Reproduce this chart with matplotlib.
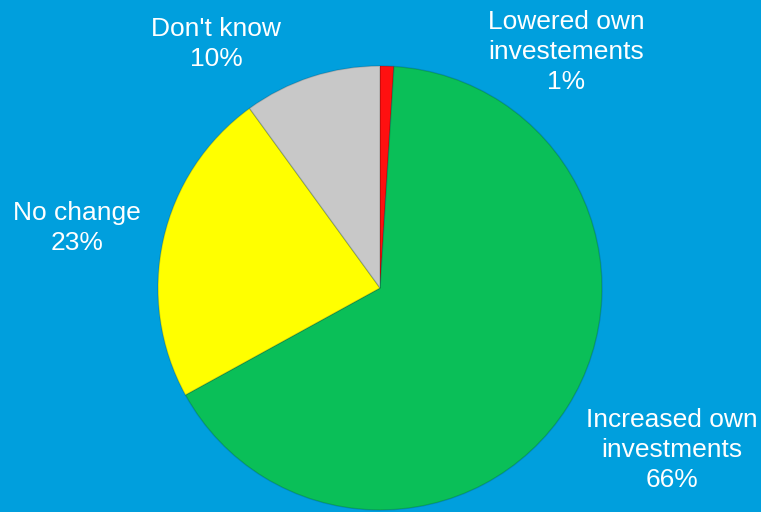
import matplotlib
matplotlib.use('Agg')
from matplotlib import pyplot as plt

plt.rcParams['font.family'] = ['Liberation Sans', 'DejaVu Sans']

labels = ['Lowered own\ninvestements', 'Increased own\ninvestments', 'No change', "Don't know"]
shares = [1, 66, 23, 10]
colors = ['#FF1010', '#0ABF58', '#FFFF00', '#C8C8C8']

# label centres, in pixels from top left
label_xy = [(566, 52), (672, 450), (77, 228), (216, 44)]

W, H = 761, 512
fig = plt.figure(figsize=(W / 100, H / 100), dpi=100)
fig.patch.set_facecolor('#009FDD')
ax = fig.add_axes([0, 0, 1, 1])
ax.set_facecolor('#009FDD')

ax.pie(shares, colors=colors, startangle=90, counterclock=False,
       center=(380, H - 288), radius=222,
       wedgeprops=dict(edgecolor=(0, 0, 0, 0.15), linewidth=1.0))

for lab, val, (x, y) in zip(labels, shares, label_xy):
    ax.text(x, H - y, f'{lab}\n{val}%', color='white', fontsize=19,
            ha='center', va='center', linespacing=1.3)

ax.set_xlim(0, W)
ax.set_ylim(0, H)
ax.set_aspect('equal')
ax.axis('off')

plt.savefig('out.png', dpi=100, facecolor=fig.get_facecolor())
